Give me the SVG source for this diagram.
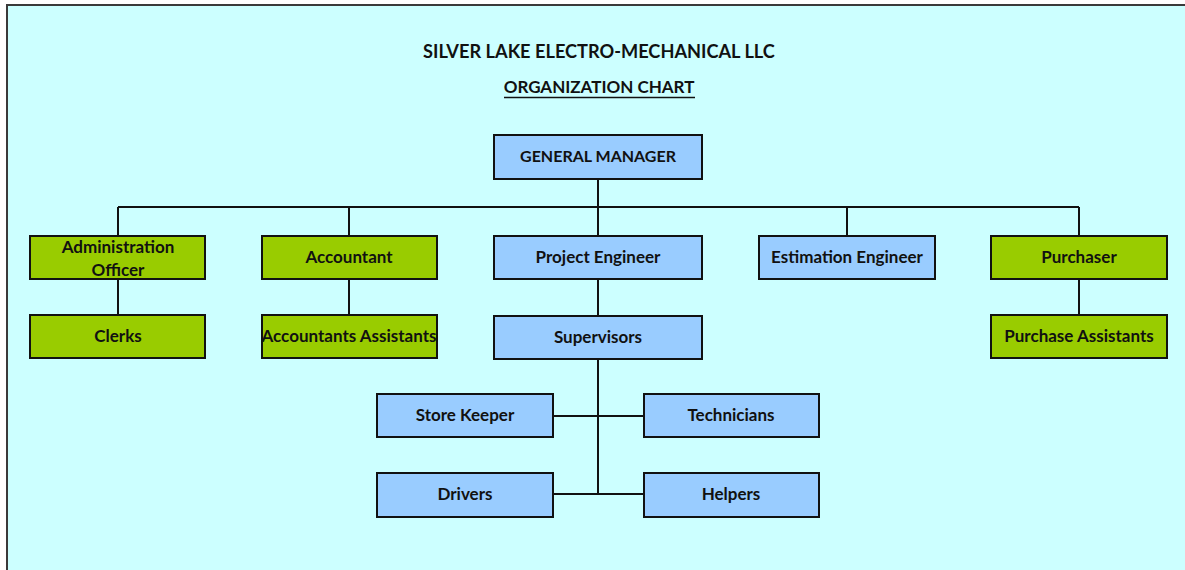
<svg xmlns="http://www.w3.org/2000/svg" width="1185" height="570" viewBox="0 0 1185 570">
<style>
.bg{fill:#CCFFFF;stroke:#3a3a3a;stroke-width:2}
.g{fill:#99CC00;stroke:#111;stroke-width:2}
.b{fill:#99CCFF;stroke:#111;stroke-width:2}
.t{font-family:Lato,"Liberation Sans",sans-serif;font-weight:bold;font-size:17px;fill:#111;text-anchor:middle}
.h{font-family:Lato,"Liberation Sans",sans-serif;font-weight:bold;font-size:18.2px;fill:#111;text-anchor:middle}
.c{stroke:#111;stroke-width:2;fill:none}
</style>
<rect x="0" y="0" width="1185" height="570" fill="#fff"/>
<rect class="bg" x="7" y="5" width="1190" height="580"/>
<g id="title">
<text class="h" x="599" y="58">SILVER LAKE ELECTRO-MECHANICAL LLC</text>
<text class="t" x="599" y="93">ORGANIZATION CHART</text>
<line x1="504" y1="97.5" x2="695" y2="97.5" stroke="#111" stroke-width="1.5"/>
</g>
<g id="connectors">
<path class="c" d="M598 179V236M118 207H1079M118 207V236M349 207V236M847 207V236M1079 207V236"/>
<path class="c" d="M118 279V315M349 279V315M1079 279V315M598 279V316"/>
<path class="c" d="M598 359V494M553 416H644M553 494H644"/>
</g>
<g id="gm"><rect class="b" x="494" y="135" width="208" height="44"/><text class="t" x="598" y="162" style="font-size:16px">GENERAL MANAGER</text></g>
<g id="admin"><rect class="g" x="30" y="236" width="175" height="43"/><text class="t" x="118" y="253">Administration</text><text class="t" x="118" y="276">Officer</text></g>
<g id="accountant"><rect class="g" x="262" y="236" width="175" height="43"/><text class="t" x="349" y="263">Accountant</text></g>
<g id="project"><rect class="b" x="494" y="236" width="208" height="43"/><text class="t" x="598" y="263">Project Engineer</text></g>
<g id="estimation"><rect class="b" x="759" y="236" width="176" height="43"/><text class="t" x="847" y="263">Estimation Engineer</text></g>
<g id="purchaser"><rect class="g" x="991" y="236" width="176" height="43"/><text class="t" x="1079" y="263">Purchaser</text></g>
<g id="clerks"><rect class="g" x="30" y="315" width="175" height="43"/><text class="t" x="118" y="342">Clerks</text></g>
<g id="accassist"><rect class="g" x="262" y="315" width="175" height="43"/><text class="t" x="349" y="342">Accountants Assistants</text></g>
<g id="supervisors"><rect class="b" x="494" y="316" width="208" height="43"/><text class="t" x="598" y="343">Supervisors</text></g>
<g id="purassist"><rect class="g" x="991" y="315" width="176" height="43"/><text class="t" x="1079" y="342">Purchase Assistants</text></g>
<g id="storekeeper"><rect class="b" x="377" y="394" width="176" height="43"/><text class="t" x="465" y="421">Store Keeper</text></g>
<g id="technicians"><rect class="b" x="644" y="394" width="175" height="43"/><text class="t" x="731" y="421">Technicians</text></g>
<g id="drivers"><rect class="b" x="377" y="473" width="176" height="44"/><text class="t" x="465" y="500">Drivers</text></g>
<g id="helpers"><rect class="b" x="644" y="473" width="175" height="44"/><text class="t" x="731" y="500">Helpers</text></g>
</svg>
